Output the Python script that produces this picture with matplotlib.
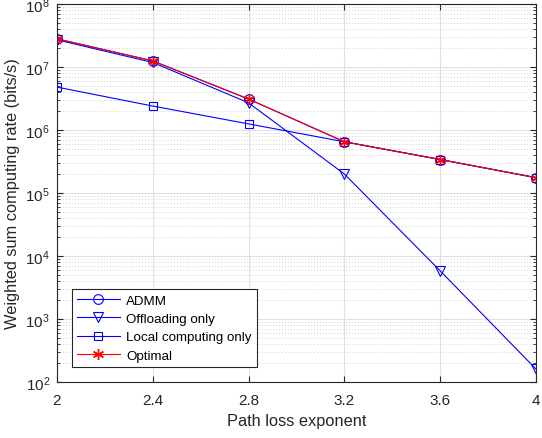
import numpy as np
import matplotlib
matplotlib.use("Agg")
import matplotlib.pyplot as plt
from matplotlib.ticker import LogLocator, NullFormatter

plt.rcParams["font.family"] = ["Liberation Sans", "DejaVu Sans"]
plt.rcParams["mathtext.fontset"] = "custom"
plt.rcParams["mathtext.rm"] = "Liberation Sans"

# data
path_loss = [2.0, 2.4, 2.8, 3.2, 3.6, 4.0]
admm = [2.8e7, 1.25e7, 3.1e6, 6.5e5, 3.4e5, 1.75e5]
offloading = [2.7e7, 1.18e7, 2.7e6, 2.0e5, 5.8e3, 1.6e2]
local_only = [4.8e6, 2.4e6, 1.25e6, 6.5e5, 3.4e5, 1.75e5]
optimal = [2.8e7, 1.25e7, 3.1e6, 6.5e5, 3.4e5, 1.75e5]

fig = plt.figure(figsize=(5.42, 4.39), dpi=100)
ax = fig.add_axes([0.105, 0.1276, 0.884, 0.861])

lw = 0.8
ax.semilogy(path_loss, admm, color="b", lw=lw, marker="o", ms=7, mfc="none", mew=0.8, label="ADMM")
ax.semilogy(path_loss, offloading, color="b", lw=lw, marker="v", ms=7, mfc="none", mew=0.8, label="Offloading only")
ax.semilogy(path_loss, local_only, color="b", lw=lw, marker="s", ms=6, mfc="none", mew=0.8, label="Local computing only")
ax.semilogy(path_loss, optimal, color="r", lw=lw, marker=(6, 2, 0), ms=8, mew=1.0, label="Optimal")

ax.set_xlim(2, 4)
ax.set_ylim(1e2, 1e8)
ax.set_xticks([2, 2.4, 2.8, 3.2, 3.6, 4])
ax.set_xticklabels(["2", "2.4", "2.8", "3.2", "3.6", "4"])
ax.yaxis.set_major_locator(LogLocator(base=10, numticks=10))
ax.yaxis.set_minor_locator(LogLocator(base=10, subs=np.arange(2, 10), numticks=20))
ax.yaxis.set_minor_formatter(NullFormatter())

ax.grid(True, which="major", color="#e0e0e0", lw=0.8, ls="-")
ax.grid(True, which="minor", axis="y", color="#c0c0c0", lw=0.6, ls=(0, (1, 2.5)))
ax.set_axisbelow(True)

ax.tick_params(which="both", direction="in", top=True, right=True, labelsize=11, colors="#262626")
ax.tick_params(axis="x", which="major", length=4, pad=8)
ax.tick_params(axis="y", which="major", length=4, pad=5)
ax.tick_params(which="minor", length=2)
for s in ax.spines.values():
    s.set_color("#262626")
    s.set_linewidth(0.8)

ax.set_xlabel("Path loss exponent", fontsize=11.8, color="#262626", labelpad=4)
ax.set_ylabel("Weighted sum computing rate (bits/s)", fontsize=11.8, color="#262626")

leg = ax.legend(loc="lower left", bbox_to_anchor=(0.031, 0.04), fontsize=9.6, fancybox=False,
                edgecolor="#262626", framealpha=1, handlelength=3.2, handletextpad=0.5,
                borderpad=0.4, labelspacing=0.45, borderaxespad=0)
leg.get_frame().set_linewidth(0.8)

fig.savefig("out.png", dpi=100)
